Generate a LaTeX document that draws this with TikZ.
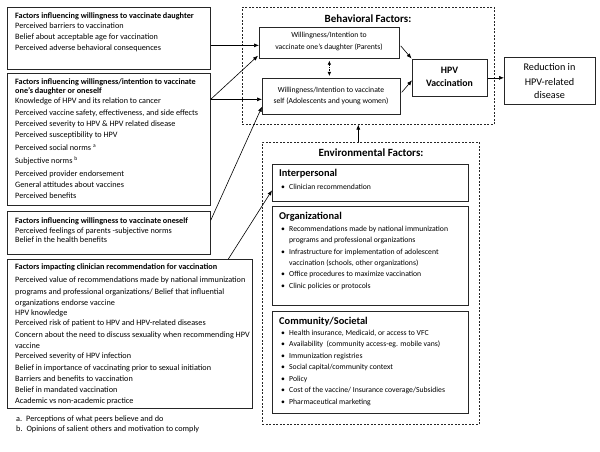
\documentclass[tikz,border=0pt]{standalone}
\usepackage{fontspec}
\setmainfont{Carlito}
\usetikzlibrary{arrows.meta,calc}
\tikzset{
  box/.style={draw=black!85, line width=0.7pt, rectangle, inner sep=0pt, anchor=north west},
  dbox/.style={draw=black!85, line width=0.6pt, dash pattern=on 2pt off 1.5pt, rectangle, inner sep=0pt, anchor=north west},
  txt/.style={anchor=base west, inner sep=0pt, font=\fontsize{8.2}{9}\selectfont},
  btxt/.style={txt, font=\fontsize{8.2}{9}\selectfont\bfseries},
  ctxt/.style={anchor=base, inner sep=0pt, font=\fontsize{7.7}{9}\selectfont},
  etxt/.style={anchor=base west, inner sep=0pt, font=\fontsize{7.7}{9}\selectfont},
  ehead/.style={anchor=base west, inner sep=0pt, font=\fontsize{10.4}{12}\selectfont\bfseries},
  arr/.style={draw=black, line width=0.6pt, -{Latex[length=5pt,width=4pt]}},
}
\newcommand{\bul}{\makebox[8pt][l]{•}}
\newcommand{\ind}{\hspace*{8pt}}
\begin{document}
\begin{tikzpicture}[x=1pt,y=-1pt]
\useasboundingbox[fill=white] (0,0) rectangle (600,452);

% ---- left boxes
\node[box, minimum width=203pt, minimum height=62pt] (b1) at (7,7) {};
\node[box, minimum width=203pt, minimum height=132pt] (b2) at (7,73) {};
\node[box, minimum width=203pt, minimum height=43pt] (b3) at (7,211) {};
\node[box, minimum width=245pt, minimum height=149pt] (b4) at (7,259) {};

\node[btxt] (b1h) at (15,18.7) {Factors influencing willingness to vaccinate daughter};
\node[txt] (b1a) at (15,28.4) {Perceived barriers to vaccination};
\node[txt] (b1b) at (15,39.3) {Belief about acceptable age for vaccination};
\node[txt] (b1c) at (15,50.2) {Perceived adverse behavioral consequences};

\node[btxt] (b2h1) at (15,84.4) {Factors influencing willingness/intention to vaccinate};
\node[btxt] (b2h2) at (15,93.4) {one’s daughter or oneself};
\node[txt] (b2a) at (15,103.4) {Knowledge of HPV and its relation to cancer};
\node[txt] (b2b) at (15,115) {Perceived vaccine safety, effectiveness, and side effects};
\node[txt] (b2c) at (15,126.4) {Perceived severity to HPV \& HPV related disease};
\node[txt] (b2d) at (15,137.7) {Perceived susceptibility to HPV};
\node[txt] (b2e) at (15,150.2) {Perceived social norms \raisebox{3pt}{\fontsize{5.5}{6}\selectfont a}};
\node[txt] (b2f) at (15,163.2) {Subjective norms \raisebox{3pt}{\fontsize{5.5}{6}\selectfont b}};
\node[txt] (b2g) at (15,176.2) {Perceived provider endorsement};
\node[txt] (b2h) at (15,187.2) {General attitudes about vaccines};
\node[txt] (b2i) at (15,198.4) {Perceived benefits};

\node[btxt] (b3h) at (15,223.7) {Factors influencing willingness to vaccinate oneself};
\node[txt] (b3a) at (15,233) {Perceived feelings of parents -subjective norms};
\node[txt] (b3b) at (15,242.7) {Belief in the health benefits};

\node[btxt] (b4h) at (15,269.4) {Factors impacting clinician recommendation for vaccination};
\node[txt] (b4a) at (15,282.4) {Perceived value of recommendations made by national immunization};
\node[txt] (b4b) at (15,294) {programs and professional organizations/ Belief that influential};
\node[txt] (b4c) at (15,305.4) {organizations endorse vaccine};
\node[txt] (b4d) at (15,315.4) {HPV knowledge};
\node[txt] (b4e) at (15,325.4) {Perceived risk of patient to HPV and HPV-related diseases};
\node[txt] (b4f) at (15,337) {Concern about the need to discuss sexuality when recommending HPV};
\node[txt] (b4g) at (15,348) {vaccine};
\node[txt] (b4i) at (15,358.7) {Perceived severity of HPV infection};
\node[txt] (b4j) at (15,370.4) {Belief in importance of vaccinating prior to sexual initiation};
\node[txt] (b4k) at (15,381.4) {Barriers and benefits to vaccination};
\node[txt] (b4l) at (15,392.7) {Belief in mandated vaccination};
\node[txt] (b4m) at (15,403.7) {Academic vs non-academic practice};

\node[txt] (fa) at (16,421.4) {a.\hspace{4pt}Perceptions of what peers believe and do};
\node[txt] (fb) at (16,431.4) {b.\hspace{4pt}Opinions of salient others and motivation to comply};

% ---- behavioral factors
\node[dbox, minimum width=252pt, minimum height=117pt] (beh) at (242,7) {};
\node[anchor=base, inner sep=0pt, font=\fontsize{11}{12}\selectfont\bfseries] (behl) at (368,22.8) {Behavioral Factors:};
\node[box, minimum width=140pt, minimum height=31pt] (par) at (259,27) {};
\node[box, minimum width=138pt, minimum height=36pt] (self) at (262,78) {};
\node[box, minimum width=75pt, minimum height=37pt] (hpv) at (412,59) {};
\node[box, minimum width=91pt, minimum height=47pt] (red) at (504,57) {};

\node[ctxt] (pa1) at (329,37.7) {Willingness/Intention to};
\node[ctxt] (pa2) at (329,50) {vaccinate one’s daughter (Parents)};
\node[ctxt] (se1) at (331,92.7) {Willingness/Intention to vaccinate};
\node[ctxt] (se2) at (331,103.2) {self (Adolescents and young women)};
\node[anchor=base, inner sep=0pt, font=\fontsize{9.8}{11}\selectfont\bfseries] (hp1) at (449.5,73.5) {HPV};
\node[anchor=base, inner sep=0pt, font=\fontsize{9.8}{11}\selectfont\bfseries] (hp2) at (449.5,86.5) {Vaccination};
\node[anchor=base, inner sep=0pt, font=\fontsize{10.2}{11}\selectfont] (rd1) at (549.5,70.5) {Reduction in};
\node[anchor=base, inner sep=0pt, font=\fontsize{10.2}{11}\selectfont] (rd2) at (549.5,85) {HPV-related};
\node[anchor=base, inner sep=0pt, font=\fontsize{10.2}{11}\selectfont] (rd3) at (549.5,98.5) {disease};

% ---- environmental factors
\node[dbox, minimum width=217pt, minimum height=282pt] (env) at (262,142) {};
\node[anchor=base, inner sep=0pt, font=\fontsize{11}{12}\selectfont\bfseries] (envl) at (371,156.8) {Environmental Factors:};
\node[box, minimum width=196pt, minimum height=37pt] (inter) at (272,164) {};
\node[box, minimum width=196pt, minimum height=99pt] (org) at (272,206) {};
\node[box, minimum width=196pt, minimum height=102pt] (comm) at (272,311) {};

\node[ehead] (ih) at (279,176.6) {Interpersonal};
\node[etxt] (i1) at (281,189.7) {\bul Clinician recommendation};

\node[ehead] (oh) at (279,219.6) {Organizational};
\node[etxt] (o1) at (281,231.7) {\bul Recommendations made by national immunization};
\node[etxt] (o2) at (281,242.7) {\ind programs and professional organizations};
\node[etxt] (o3) at (281,254) {\bul Infrastructure for implementation of adolescent};
\node[etxt] (o4) at (281,265) {\ind vaccination (schools, other organizations)};
\node[etxt] (o5) at (281,276.7) {\bul Office procedures to maximize vaccination};
\node[etxt] (o6) at (281,288) {\bul Clinic policies or protocols};

\node[ehead] (ch) at (279,324.6) {Community/Societal};
\node[etxt] (c1) at (281,335) {\bul Health insurance, Medicaid, or access to VFC};
\node[etxt] (c2) at (281,346.7) {\bul Availability \ (community access-eg. mobile vans)};
\node[etxt] (c3) at (281,358) {\bul Immunization registries};
\node[etxt] (c4) at (281,369.7) {\bul Social capital/community context};
\node[etxt] (c5) at (281,381) {\bul Policy};
\node[etxt] (c6) at (281,392.7) {\bul Cost of the vaccine/ Insurance coverage/Subsidies};
\node[etxt] (c7) at (281,404) {\bul Pharmaceutical marketing};

% ---- connectors
\draw[arr] ([yshift=-7pt]b1.east) -- ([yshift=-2.5pt]par.west);
\draw[arr] ([yshift=40pt]b2.east) -- ([yshift=3pt,xshift=-1pt]par.south west);
\draw[arr] ([yshift=40pt]b2.east) -- ([yshift=-3pt]self.west);
\draw[arr] ([yshift=12.5pt]b3.east) -- ([yshift=8pt]self.south west);
\draw[arr] ([xshift=98.5pt]b4.north) -- ([yshift=-7.5pt]inter.west);
\draw[draw=black, line width=0.6pt, dash pattern=on 1.5pt off 1pt, {Latex[length=4pt,width=3.5pt]}-{Latex[length=4pt,width=3.5pt]}, shorten <=2pt, shorten >=2pt] (par.south) -- (par.south |- self.north);
\draw[arr] ([yshift=-3pt,xshift=1pt]par.east) -- ([xshift=-0.5pt,yshift=0.5pt]hpv.north west);
\draw[arr] ([yshift=4pt,xshift=1pt]self.east) -- ([yshift=-2.5pt]hpv.west);
\draw[arr] (hpv.east) -- (hpv.east -| red.west);
\draw[arr] ([xshift=-12.5pt]env.north) -- ([xshift=-12.5pt]env.north |- beh.south);
\end{tikzpicture}
\end{document}
